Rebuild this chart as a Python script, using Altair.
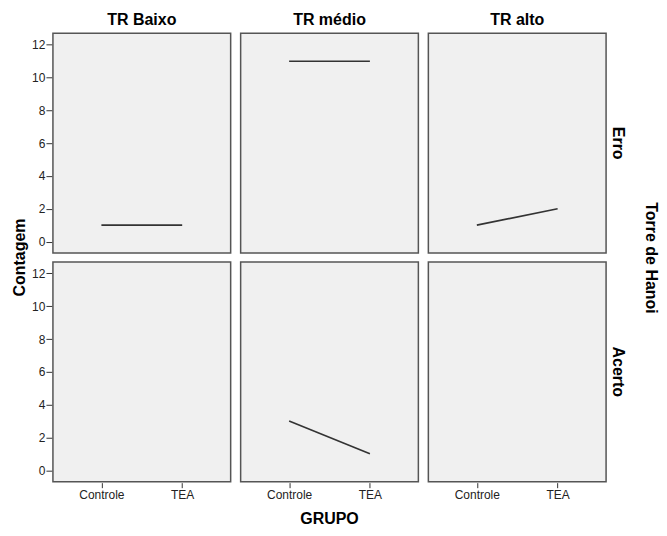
import altair as alt
import pandas as pd

tr_levels = ["TR Baixo", "TR médio", "TR alto"]
torre_levels = ["Erro", "Acerto"]
grupos = ["Controle", "TEA"]

# (TR, Torre, Controle, TEA); None = no data in that cell
cells = [
    ("TR Baixo", "Erro", 1, 1),
    ("TR médio", "Erro", 11, 11),
    ("TR alto", "Erro", 1, 2),
    ("TR Baixo", "Acerto", None, None),
    ("TR médio", "Acerto", 3, 1),
    ("TR alto", "Acerto", None, None),
]

rows = []
for tr, torre, c, t in cells:
    for g, v in zip(grupos, [c, t]):
        rows.append({"TR": tr, "Torre": torre, "GRUPO": g, "Contagem": v})
df = pd.DataFrame(rows)

font = "Liberation Sans"
bold_size = 16

base = alt.Chart(df).mark_line(color="#333333", strokeWidth=1.6).encode(
    x=alt.X("GRUPO:N", sort=grupos, title=None,
            scale=alt.Scale(type="point", padding=0.6),
            axis=alt.Axis(labelAngle=0, domain=False, tickSize=5, tickColor="#333333",
                          labelFontSize=12, labelColor="#222222", labelFont=font,
                          labelPadding=2)),
    y=alt.Y("Contagem:Q", title=None,
            scale=alt.Scale(domain=[-0.7, 12.7], nice=False, zero=False),
            axis=alt.Axis(values=[0, 2, 4, 6, 8, 10, 12], domain=False, grid=False,
                          tickSize=6, tickColor="#333333", labelFontSize=12,
                          labelColor="#222222", labelFont=font, labelPadding=1)),
).properties(width=178, height=220)

chart = base.facet(
    column=alt.Column("TR:N", sort=tr_levels, title="GRUPO",
                      header=alt.Header(labelOrient="top", titleOrient="bottom",
                                        labelFontSize=bold_size, labelFontWeight="bold",
                                        labelFont=font, labelColor="#000000", labelPadding=4,
                                        titleFontSize=bold_size, titleFontWeight="bold",
                                        titleFont=font, titleColor="#000000",
                                        titlePadding=0)),
    row=alt.Row("Torre:N", sort=torre_levels, title="Torre de Hanoi",
                header=alt.Header(labelOrient="right", titleOrient="right",
                                  labelAngle=90, titleAngle=90,
                                  labelFontSize=bold_size, labelFontWeight="bold",
                                  labelFont=font, labelColor="#000000",
                                  titleFontSize=bold_size, titleFontWeight="bold",
                                  titleFont=font, titleColor="#000000",
                                  labelPadding=3, titlePadding=7)),
    spacing={"row": 7, "column": 8},
).properties(
    title=alt.TitleParams("Contagem", orient="left", anchor="middle",
                          fontSize=bold_size, fontWeight="bold", font=font,
                          color="#000000", offset=4, dx=12),
    padding={"left": 3, "top": 4, "right": 0, "bottom": 0},
).configure_view(
    fill="#f0f0f0", stroke="#555555", strokeWidth=1.5
)

chart.save("out.html", embed_options={"renderer": "svg", "actions": False})
